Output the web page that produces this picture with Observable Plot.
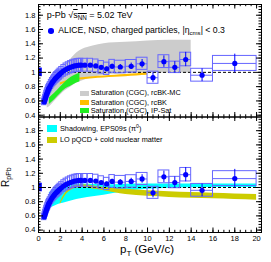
<!DOCTYPE html>
<html><head><meta charset="utf-8">
<script src="https://cdn.jsdelivr.net/npm/d3@7"></script>
<script src="https://cdn.jsdelivr.net/npm/@observablehq/plot@0.6"></script>
<style>
html,body{margin:0;padding:0;background:#fff;}
#chart{position:relative;width:271px;height:262px;overflow:hidden;background:#fff;font-family:"Liberation Sans",Arial,Helvetica,sans-serif;color:#000;}
#chart svg{position:absolute;left:0;}
.t{position:absolute;white-space:nowrap;line-height:1;}
.sw{position:absolute;}
.sub{font-size:70%;position:relative;top:0.35em;}
.sup{font-size:70%;position:relative;top:-0.45em;}
</style></head><body><div id="chart"></div>
<script>
// ---------- data ----------
const pT = [0.525,0.575,0.625,0.675,0.725,0.775,0.825,0.875,0.925,0.975,
  1.05,1.15,1.25,1.35,1.45,1.55,1.65,1.75,1.85,1.95,
  2.1,2.3,2.5,2.7,2.9,3.1,3.3,3.5,3.7,3.9,
  4.25,4.75,5.25,5.75,6.25,6.75,7.5,8.5,9.5,10.5,11.5,12.5,13.5,15,18];
const binEdges = [0.5,0.55,0.6,0.65,0.7,0.75,0.8,0.85,0.9,0.95,1.0,
  1.1,1.2,1.3,1.4,1.5,1.6,1.7,1.8,1.9,2.0,
  2.2,2.4,2.6,2.8,3.0,3.2,3.4,3.6,3.8,4.0,
  4.5,5.0,5.5,6.0,6.5,7.0,8,9,10,11,12,13,14,16,20];
const RpPb = [0.585,0.61,0.635,0.66,0.685,0.705,0.725,0.745,0.765,0.78,
  0.80,0.83,0.855,0.875,0.895,0.915,0.93,0.945,0.96,0.975,
  0.995,1.02,1.04,1.055,1.07,1.08,1.09,1.095,1.10,1.10,
  1.10,1.10,1.09,1.07,1.05,1.085,1.075,1.085,1.12,0.925,1.15,1.07,1.18,0.96,1.125];
const statErr = [0.004,0.004,0.004,0.004,0.004,0.004,0.004,0.004,0.004,0.004,
  0.004,0.004,0.004,0.004,0.004,0.005,0.005,0.005,0.005,0.005,
  0.005,0.005,0.006,0.006,0.006,0.007,0.007,0.008,0.008,0.009,
  0.01,0.012,0.015,0.02,0.025,0.03,0.035,0.045,0.06,0.07,0.08,0.08,0.1,0.09,0.13];
const sysErr = [0.045,0.047,0.049,0.05,0.052,0.054,0.055,0.057,0.058,0.06,
  0.062,0.064,0.066,0.068,0.07,0.072,0.074,0.075,0.076,0.078,
  0.08,0.082,0.084,0.086,0.087,0.088,0.089,0.09,0.09,0.09,
  0.09,0.09,0.09,0.088,0.086,0.09,0.088,0.088,0.085,0.085,0.09,0.08,0.095,0.09,0.105];
const normUnc = [0.06];
const normBoxPT = [0, 0.35];

// Top-panel model bands
const rcbkmcPT = [0.8,1,1.5,2,2.5,3,3.5,4,5,6,8,10,12,14];
const rcbkmcLo = [0.50,0.52,0.60,0.68,0.75,0.80,0.85,0.88,0.93,0.96,0.98,0.99,0.99,0.99];
const rcbkmcHi = [0.55,0.66,0.83,0.98,1.10,1.19,1.27,1.32,1.37,1.40,1.42,1.44,1.45,1.45];
const rcbkPT = [2,2.5,3,3.5,4,5,6,7,8,9,10];
const rcbkLo = [0.82,0.85,0.87,0.885,0.895,0.91,0.92,0.93,0.94,0.95,0.96];
const rcbkHi = [0.85,0.88,0.90,0.915,0.925,0.94,0.95,0.96,0.97,0.98,0.99];
const ipsatPT = [1.0,1.5,2,2.5,3,3.5,3.8];
const ipsatLo = [0.55,0.62,0.70,0.77,0.81,0.85,0.87];
const ipsatHi = [0.64,0.71,0.79,0.87,0.93,0.97,0.99];
// Bottom-panel model bands
const eps09PT = [1,1.5,2,2.5,3,3.5,4,5,6,7,8,10,12,14,16,18,20];
const eps09Lo = [0.70,0.74,0.77,0.79,0.81,0.83,0.845,0.87,0.89,0.92,0.945,0.975,0.99,0.995,1.0,1.0,1.0];
const eps09Hi = [0.93,0.98,1.01,1.03,1.045,1.05,1.05,1.045,1.04,1.04,1.045,1.05,1.05,1.05,1.05,1.05,1.05];
const lopqcdPT = [2,2.25,2.5,3,3.5,4,5,6,8,10,12,14,16,18,20];
const lopqcdLo = [0.76,0.83,0.89,0.96,0.99,1.0,0.98,0.955,0.90,0.875,0.86,0.85,0.84,0.83,0.82];
const lopqcdHi = [0.79,0.87,0.93,1.0,1.03,1.04,1.025,1.0,0.975,0.955,0.94,0.93,0.92,0.91,0.90];

const yTickLabels = [0.4,0.6,0.8,1,1.2,1.4,1.6,1.8];
const xTickLabels = [0,2,4,6,8,10,12,14,16,18,20];

// ---------- build ----------
const points = pT.map((x,i) => ({pT:x, lo:binEdges[i], hi:binEdges[i+1], R:RpPb[i], stat:statErr[i], sys:sysErr[i]}));
const band = (xs, lo, hi) => xs.map((x,i) => ({pT:x, lo:lo[i], hi:hi[i]}));

const fontFam = '"Liberation Sans", Arial, Helvetica, sans-serif';
const W = 271, ML = 38, MR = 10;
const plotW = W - ML - MR;
const xDomain = [0, 20.45];

function panel({height, marginTop, marginBottom, yDomain, bands, showX}) {
  const frameH = height - marginTop - marginBottom;
  const yMinor = d3.range(0.36, 2.0, 0.04).filter(v => v >= yDomain[0] && v <= yDomain[1]);
  const xMinor = d3.range(0, 20.45, 0.5);
  const tick = "#000";
  const marks = [
    ...bands.map(b => Plot.areaY(b.data, {x:"pT", y1:"lo", y2:"hi", fill:b.color, curve:"monotone-x"})),
    Plot.ruleY([1], {stroke:"#000", strokeWidth:1, strokeDasharray:"3,2"}),
    Plot.rect(normUnc, {x1: () => normBoxPT[0], x2: () => normBoxPT[1], y1: d => 1 - d, y2: d => 1 + d, fill:"#0000ff"}),
    Plot.rect(points, {x1: d => Math.min(d.lo, d.pT - 0.2), x2: d => Math.max(d.hi, d.pT + 0.2), y1: d => d.R - d.sys, y2: d => d.R + d.sys, fill:"none", stroke:"#6666ff", strokeWidth:1}),
    Plot.ruleY(points, {y:"R", x1:"lo", x2:"hi", stroke:"#6666ff", strokeWidth:1}),
    Plot.ruleX(points, {x:"pT", y1: d => d.R - d.stat, y2: d => d.R + d.stat, stroke:"#0000ff", strokeWidth:1}),
    Plot.dot(points, {x:"pT", y:"R", r:2.6, fill:"#0000ff", stroke:"none"}),
    Plot.tickY(yMinor, {y: d => d, insetRight: plotW - 2.5, stroke: tick}),
    Plot.tickY(yTickLabels, {y: d => d, insetRight: plotW - 5, stroke: tick}),
    Plot.tickY(yMinor, {y: d => d, insetLeft: plotW - 2.5, stroke: tick}),
    Plot.tickY(yTickLabels, {y: d => d, insetLeft: plotW - 5, stroke: tick}),
    Plot.tickX(xMinor, {x: d => d, insetTop: frameH - 2.2, stroke: tick}),
    Plot.tickX(xTickLabels, {x: d => d, insetTop: frameH - 4.5, stroke: tick}),
    Plot.tickX(xMinor, {x: d => d, insetBottom: frameH - 2.2, stroke: tick}),
    Plot.tickX(xTickLabels, {x: d => d, insetBottom: frameH - 4.5, stroke: tick}),
    Plot.frame({stroke:"#000", strokeWidth:1}),
    Plot.axisY(yTickLabels, {tickSize:0, tickPadding:3, label:null, tickFormat: d => d === 1 ? "1" : d.toFixed(1), fontSize:7.5})
  ];
  if (showX) marks.push(Plot.axisX(xTickLabels, {tickSize:0, tickPadding:3, label:null, fontSize:7.5}));
  return Plot.plot({
    width: W, height, marginLeft: ML, marginRight: MR, marginTop, marginBottom,
    x: {domain: xDomain, axis: null},
    y: {domain: yDomain},
    style: {background:"transparent", fontFamily: fontFam, fontSize:"7.5px", overflow:"visible", color:"#000"},
    marks
  });
}

const chart = document.getElementById("chart");
const topPlot = panel({height:117, marginTop:4, marginBottom:0.5, yDomain:[0.375,1.95], showX:false,
  bands:[
    {data: band(rcbkmcPT, rcbkmcLo, rcbkmcHi), color:"#cccccc"},
    {data: band(rcbkPT, rcbkLo, rcbkHi), color:"#ffbf00"},
    {data: band(ipsatPT, ipsatLo, ipsatHi), color:"#22ee22"}
  ]});
topPlot.style.top = "0px";
const botPlot = panel({height:146, marginTop:0.5, marginBottom:30, yDomain:[0.366,1.993], showX:true,
  bands:[
    {data: band(eps09PT, eps09Lo, eps09Hi), color:"#00ffff"},
    {data: band(lopqcdPT, lopqcdLo, lopqcdHi), color:"#cccc00"}
  ]});
botPlot.style.top = "116px";
chart.appendChild(topPlot);
chart.appendChild(botPlot);

// ---------- text overlays ----------
function addText(html, left, topPx, size, extra) {
  const d = document.createElement("div");
  d.className = "t";
  d.style.left = left + "px"; d.style.top = topPx + "px"; d.style.fontSize = size + "px";
  if (extra) Object.assign(d.style, extra);
  d.innerHTML = html;
  chart.appendChild(d);
  return d;
}
function addSwatch(color, left, topPx, w, h, radius) {
  const s = document.createElement("div");
  s.className = "sw";
  Object.assign(s.style, {left:left+"px", top:topPx+"px", width:w+"px", height:h+"px", background:color, borderRadius: radius || "0"});
  chart.appendChild(s);
}
addText('p-Pb <span>&radic;<span style="text-decoration:overline">s<span class="sub">NN</span></span></span> = 5.02 TeV', 46.7, 10.7, 9);
addSwatch("#0000ff", 48.3, 28, 5.6, 5.6, "50%");
addText('ALICE, NSD, charged particles, |&eta;<span class="sub">cms</span>| &lt; 0.3', 58.3, 26.1, 8.7);

const legTop = [
  {label:"Saturation (CGC), rcBK-MC", color:"#cccccc", c:93},
  {label:"Saturation (CGC), rcBK", color:"#ffbf00", c:102.2},
  {label:"Saturation (CGC), IP-Sat", color:"#22ee22", c:110.7}
];
legTop.forEach(e => { addSwatch(e.color, 80, e.c - 2.5, 9, 5); addText(e.label, 90.7, e.c - 3.65, 7.3); });
const legBot = [
  {label:'Shadowing, EPS09s (&pi;<span class="sup">0</span>)', color:"#00ffff", c:128.3},
  {label:"LO pQCD + cold nuclear matter", color:"#cccc00", c:140}
];
legBot.forEach(e => { addSwatch(e.color, 46.7, e.c - 3.3, 10, 6.6); addText(e.label, 60, e.c - 3.65, 7.3); });

addText('p<span class="sub">T</span> (GeV/c)', 120, 244.3, 11.5);
addText('R<span class="sub">pPb</span>', 1.2, 187, 10, {transformOrigin:"0 0", transform:"rotate(-90deg)"});
</script>
</body></html>
